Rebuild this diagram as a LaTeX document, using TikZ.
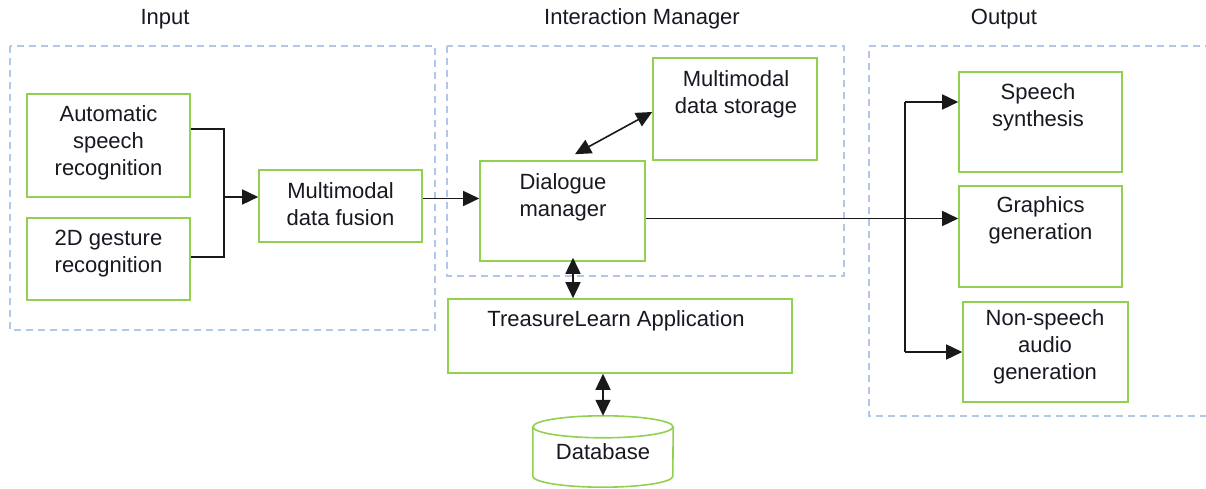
\documentclass[tikz,border=0pt]{standalone}
\usepackage{fontspec}
\setmainfont{Liberation Sans}
\usetikzlibrary{arrows.meta,calc}

\definecolor{boxgreen}{RGB}{146,208,80}
\definecolor{framecol}{RGB}{178,198,230}
\definecolor{inkcol}{RGB}{24,24,34}

\tikzset{
  gbox/.style={draw=boxgreen, line width=1.6pt, inner sep=0pt},
  txt/.style={font=\fontsize{22}{27}\selectfont, text=inkcol, align=center, inner sep=0pt},
  title/.style={font=\fontsize{22}{27}\selectfont, text=inkcol, inner sep=0pt},
  conn/.style={draw=black!90, line width=1.6pt},
  tip/.tip={Triangle[length=16pt,width=15pt]},
  arrowto/.style={conn, -tip},
  twoway/.style={conn, tip-tip},
  groupframe/.style={draw=framecol, line width=1.2pt, dash pattern=on 7pt off 5pt},
}

\begin{document}
\begin{tikzpicture}[x=1pt,y=1pt]
\useasboundingbox (0,0) rectangle (1206,489);
\fill[white] (0,0) rectangle (1206,489);

% group frames
\draw[groupframe] (10,443) rectangle (435,159);
\draw[groupframe] (447,443) rectangle (844,213);
\draw[groupframe] (1212,443) -- (869,443) -- (869,73) -- (1212,73);

% group titles
\node[title] (t-in)  at (165,470) {Input};
\node[title] (t-im)  at (642,470) {Interaction Manager};
\node[title] (t-out) at (1004,470) {Output};

% input stage
\node[gbox, minimum width=163, minimum height=103] (asr) at (108.5,343.5) {};
\node[txt] (asr-t) at (108.5,346) {Automatic\\speech\\recognition};
\node[gbox, minimum width=163, minimum height=82] (gest) at (108.5,230) {};
\node[txt] (gest-t) at (108.5,235.5) {2D gesture\\recognition};
\node[gbox, minimum width=163, minimum height=72] (fusion) at (340.5,283) {};
\node[txt] (fusion-t) at (340.5,284.5) {Multimodal\\data fusion};

% interaction manager
\node[gbox, minimum width=165, minimum height=100] (dlg) at (562.5,278) {};
\node[txt] (dlg-t) at (563,292) {Dialogue\\manager};
\node[gbox, minimum width=164, minimum height=102] (store) at (735,380) {};
\node[txt] (store-t) at (736,394.5) {Multimodal\\data storage};
\node[gbox, minimum width=344, minimum height=74] (tl) at (620,153) {};
\node[txt] (tl-t) at (616,168) {TreasureLearn Application};

% database cylinder
\node[txt, minimum width=140, minimum height=71] (db) at (603,37.5) {Database};
\draw[gbox] ([yshift=-11pt]db.north) ellipse [x radius=70pt, y radius=11pt];
\draw[gbox] ([yshift=-11pt]db.north west) -- ([yshift=11pt]db.south west)
  arc[start angle=180, end angle=360, x radius=70pt, y radius=11pt]
  -- ([yshift=-11pt]db.north east);

% output stage
\node[gbox, minimum width=163, minimum height=100] (speech) at (1040.5,367) {};
\node[txt] (speech-t) at (1038,381.5) {Speech\\synthesis};
\node[gbox, minimum width=163, minimum height=101] (graph) at (1040.5,252.5) {};
\node[txt] (graph-t) at (1040.5,268.5) {Graphics\\generation};
\node[gbox, minimum width=165, minimum height=100] (nonsp) at (1045.5,137) {};
\node[txt] (nonsp-t) at (1045,142) {Non-speech\\audio\\generation};

% input merge
\coordinate (merge) at (224,292);
\draw[conn] ([yshift=16.5pt]asr.east) -| (merge);
\draw[conn] ([yshift=2pt]gest.east) -| (merge);
\draw[arrowto] (merge) -- (merge -| fusion.west);

% fusion to dialogue manager
\coordinate (f-out) at ([yshift=7.5pt]fusion.east);
\draw[arrowto] (f-out) -- (f-out -| dlg.west);

% dialogue manager and storage
\draw[twoway] ([xshift=12.5pt,yshift=6pt]dlg.north) -- ([yshift=-3pt]store.west);

% dialogue manager and application
\coordinate (d-low) at ([xshift=10.5pt]dlg.south);
\draw[twoway] ([yshift=4pt]d-low) -- (d-low |- tl.north);

% application and database
\draw[twoway] (tl.south -| db.north) -- (db.north);

% dialogue manager to outputs
\coordinate (d-out) at ([yshift=-7.5pt]dlg.east);
\coordinate (split) at (905,387);
\coordinate (split-low) at (905,137);
\draw[arrowto] (d-out) -- (d-out -| graph.west);
\draw[conn] (split) -- (split-low);
\draw[arrowto] (split) -- (split -| speech.west);
\draw[arrowto] (split-low) -- (split-low -| nonsp.west);
\end{tikzpicture}
\end{document}
